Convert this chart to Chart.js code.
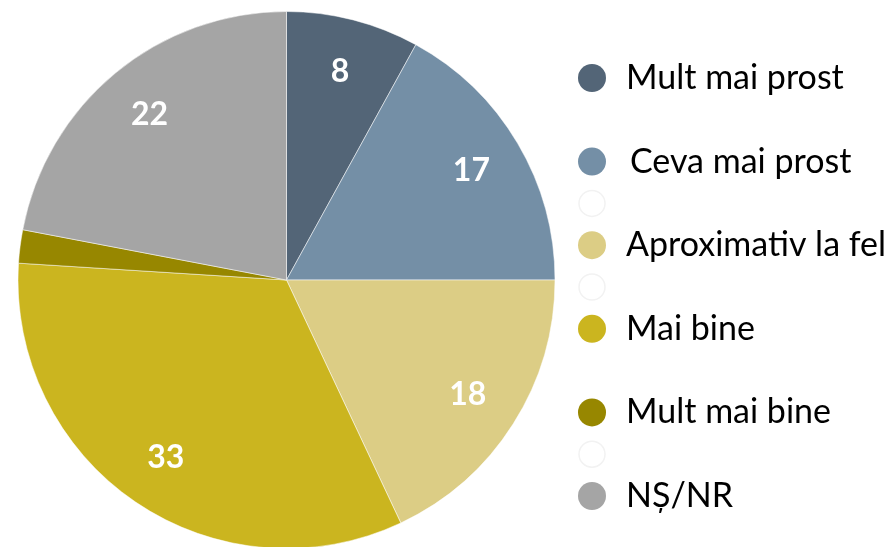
<!DOCTYPE html>
<html>
<head>
<meta charset="utf-8">
<script src="https://cdn.jsdelivr.net/npm/chart.js@4"></script>
<style>
    html, body { margin: 0; padding: 0; background: #fff; }
    #wrap { width: 891px; height: 547px; overflow: hidden; position: relative; }
    #pieChart { display: block; }
</style>
</head>
<body>
<div id="wrap"><canvas id="pieChart" width="891" height="560"></canvas></div>
<script>
var categories = ['Mult mai prost', 'Ceva mai prost', 'Aproximativ la fel', 'Mai bine', 'Mult mai bine', 'NȘ/NR'];
var values = [8, 17, 18, 33, 2, 22];
var colors = ['#536577', '#748fa6', '#dccd85', '#cbb51f', '#978700', '#a5a5a5'];
// legend rows (in half steps), empty slots get a faint ghost circle
var legendSlots = [0, 2, 4, 6, 8, 10];
var ghostSlots = [3, 5, 9];

document.addEventListener("DOMContentLoaded", function() {
    // labels inside slices
    var sliceLabels = {
        id: 'sliceLabels',
        afterDatasetsDraw: function(chart) {
            var ctx = chart.ctx;
            var meta = chart.getDatasetMeta(0);
            ctx.save();
            ctx.fillStyle = '#ffffff';
            ctx.font = 'bold 32px Lato, "Open Sans", sans-serif';
            ctx.textAlign = 'center';
            ctx.textBaseline = 'middle';
            meta.data.forEach(function(arc, i) {
                if (values[i] < 5) return;
                var p = arc.getProps(['startAngle', 'endAngle', 'outerRadius', 'x', 'y'], true);
                var mid = (p.startAngle + p.endAngle) / 2;
                var r = p.outerRadius * 0.8;
                ctx.fillText(String(values[i]), p.x + Math.cos(mid) * r, p.y + Math.sin(mid) * r);
            });
            ctx.restore();
        }
    };

    // legend on the right
    var sideLegend = {
        id: 'sideLegend',
        afterDraw: function(chart) {
            var ctx = chart.ctx;
            var x0 = 592, y0 = 78, step = 41.8;
            ctx.save();
            ghostSlots.forEach(function(s) {
                ctx.beginPath();
                ctx.arc(x0, y0 + s * step, 13, 0, Math.PI * 2);
                ctx.strokeStyle = '#f2f2f2';
                ctx.lineWidth = 1.5;
                ctx.stroke();
            });
            ctx.font = '34px Lato, "Open Sans", sans-serif';
            ctx.textBaseline = 'middle';
            ctx.textAlign = 'left';
            categories.forEach(function(c, i) {
                var y = y0 + legendSlots[i] * step;
                ctx.beginPath();
                ctx.arc(x0, y, 14, 0, Math.PI * 2);
                ctx.fillStyle = colors[i];
                ctx.fill();
                ctx.fillStyle = '#000000';
                ctx.fillText(c, i === 1 ? 630 : 626, y);
            });
            ctx.restore();
        }
    };

    var ctxPie = document.getElementById('pieChart').getContext('2d');
    var pieChart = new Chart(ctxPie, {
        type: 'pie',
        data: {
            labels: categories,
            datasets: [{
                data: values,
                backgroundColor: colors,
                borderColor: 'rgba(255,255,255,0.5)',
                borderWidth: 1
            }]
        },
        options: {
            responsive: false,
            animation: false,
            layout: { padding: { left: 16, right: 334, top: 11, bottom: 11 } },
            plugins: {
                legend: { display: false },
                tooltip: { enabled: false }
            }
        },
        plugins: [sliceLabels, sideLegend]
    });
});
</script>
</body>
</html>
